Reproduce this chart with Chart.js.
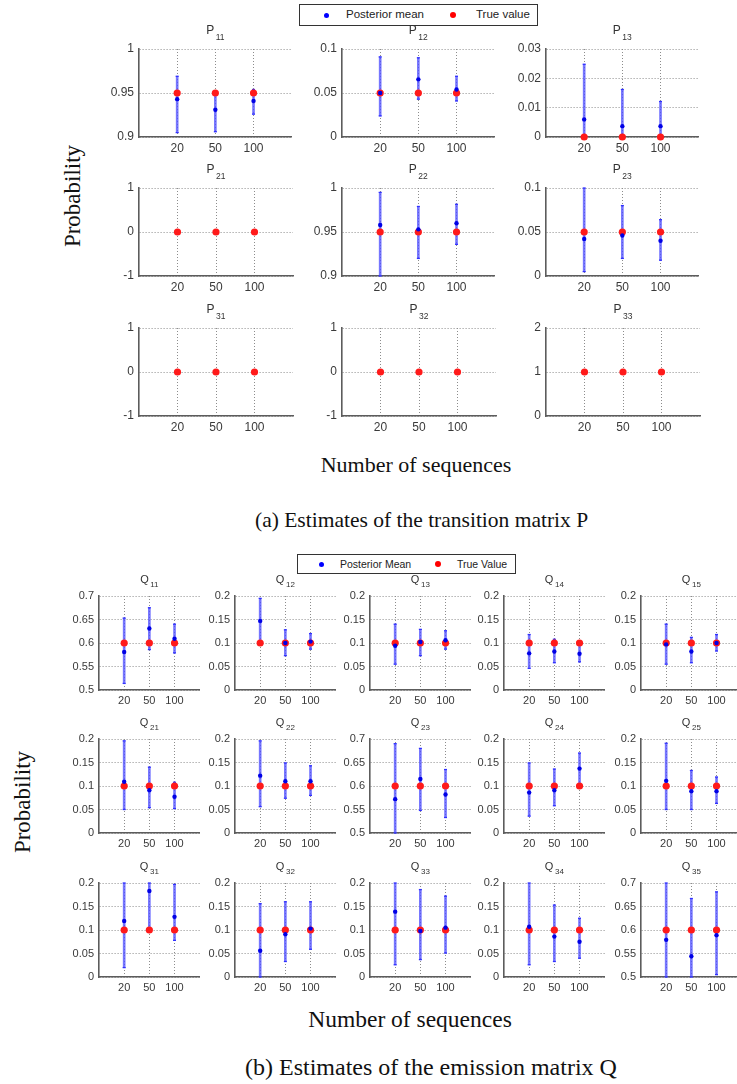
<!DOCTYPE html>
<html><head><meta charset="utf-8">
<script src="https://cdn.jsdelivr.net/npm/chart.js@4.4.0/dist/chart.umd.min.js"></script>
<style>
html,body{margin:0;padding:0;width:737px;height:1084px;overflow:hidden;background:#fff;position:relative;}
.box{position:absolute;}
.lbl{position:absolute;font-family:"Liberation Serif","Times New Roman",serif;color:#111;white-space:nowrap;line-height:1;}
.legend{position:absolute;box-sizing:border-box;border:1.5px solid #333;background:#fff;font-family:"Liberation Sans",Arial,sans-serif;color:#222;z-index:5;}
.legend span{position:absolute;white-space:nowrap;line-height:1;}
.legend .dot{border-radius:50%;}
</style></head>
<body>
<div id="stage"></div>

<div class="legend" style="left:299px;top:4px;width:239px;height:22px;font-size:11.5px;">
  <span class="dot" style="left:24px;top:7.5px;width:5px;height:5px;background:#0000ff;"></span>
  <span style="left:46px;top:4px;" id="lgA1"></span>
  <span class="dot" style="left:150px;top:7px;width:6px;height:6px;background:#ff0000;"></span>
  <span style="left:176px;top:4px;" id="lgA2"></span>
</div>
<div class="legend" style="left:297px;top:554px;width:219px;height:20px;font-size:10.5px;">
  <span class="dot" style="left:21px;top:6.5px;width:5px;height:5px;background:#0000ff;"></span>
  <span style="left:42px;top:3.5px;" id="lgB1"></span>
  <span class="dot" style="left:137px;top:6px;width:6px;height:6px;background:#ff0000;"></span>
  <span style="left:159px;top:3.5px;" id="lgB2"></span>
</div>

<div class="lbl" style="left:72px;top:196px;font-size:23px;transform:translate(-50%,-50%) rotate(-90deg);">Probability</div>
<div class="lbl" style="left:416px;top:465px;font-size:22px;transform:translate(-50%,-50%);">Number of sequences</div>
<div class="lbl" style="left:255px;top:521px;font-size:21.5px;transform:translate(0,-50%);">(a) Estimates of the transition matrix P</div>

<div class="lbl" style="left:22px;top:802px;font-size:23px;transform:translate(-50%,-50%) rotate(-90deg);">Probability</div>
<div class="lbl" style="left:410px;top:1020px;font-size:23.5px;transform:translate(-50%,-50%);">Number of sequences</div>
<div class="lbl" style="left:245px;top:1067px;font-size:24px;transform:translate(0,-50%);">(b) Estimates of the emission matrix Q</div>

<script>
// ---------------- data ----------------
const sequences = ['20', '50', '100'];

const legendP = ['Posterior mean', 'True value'];
const legendQ = ['Posterior Mean', 'True Value'];

// Transition matrix P
const pLetter = 'P';
const pNames = ['11','12','13','21','22','23','31','32','33'];
const pTickLabels = [
  ['0.9','0.95','1'], ['0','0.05','0.1'], ['0','0.01','0.02','0.03'],
  ['-1','0','1'],     ['0.9','0.95','1'], ['0','0.05','0.1'],
  ['-1','0','1'],     ['-1','0','1'],     ['0','1','2']
];
const pTrue = [
  [0.95,0.95,0.95], [0.05,0.05,0.05], [0,0,0],
  [0,0,0],          [0.95,0.95,0.95], [0.05,0.05,0.05],
  [0,0,0],          [0,0,0],          [1,1,1]
];
const pMean = [
  [0.943,0.931,0.941], [0.050,0.0655,0.054], [0.006,0.0037,0.0037],
  [null,null,null],    [0.958,0.953,0.960],  [0.042,0.046,0.040],
  [null,null,null],    [null,null,null],     [null,null,null]
];
const pLow = [
  [0.905,0.906,0.926], [0.024,0.043,0.041], [0,0,0],
  [null,null,null],    [0.900,0.920,0.936], [0.005,0.020,0.018],
  [null,null,null],    [null,null,null],    [null,null,null]
];
const pHigh = [
  [0.969,0.952,0.954], [0.091,0.090,0.069], [0.0248,0.0162,0.0121],
  [null,null,null],    [0.995,0.979,0.9815],[0.100,0.080,0.064],
  [null,null,null],    [null,null,null],    [null,null,null]
];

// Emission matrix Q
const qLetter = 'Q';
const qNames = ['11','12','13','14','15','21','22','23','24','25','31','32','33','34','35'];
const qTicksLow  = ['0','0.05','0.1','0.15','0.2'];
const qTicksHigh = ['0.5','0.55','0.6','0.65','0.7'];
const qTickLabels = [
  qTicksHigh, qTicksLow, qTicksLow, qTicksLow, qTicksLow,
  qTicksLow,  qTicksLow, qTicksHigh, qTicksLow, qTicksLow,
  qTicksLow,  qTicksLow, qTicksLow, qTicksLow, qTicksHigh
];
const qTrue = [
  [0.6,0.6,0.6], [0.1,0.1,0.1], [0.1,0.1,0.1], [0.1,0.1,0.1], [0.1,0.1,0.1],
  [0.1,0.1,0.1], [0.1,0.1,0.1], [0.6,0.6,0.6], [0.1,0.1,0.1], [0.1,0.1,0.1],
  [0.1,0.1,0.1], [0.1,0.1,0.1], [0.1,0.1,0.1], [0.1,0.1,0.1], [0.6,0.6,0.6]
];
const qMean = [
  [0.581,0.631,0.609], [0.147,0.100,0.103], [0.094,0.102,0.106], [0.078,0.082,0.077], [0.097,0.082,0.100],
  [0.109,0.091,0.077], [0.122,0.110,0.110], [0.572,0.615,0.582], [0.086,0.091,0.137], [0.111,0.089,0.089],
  [0.119,0.183,0.128], [0.056,0.091,0.103], [0.139,0.098,0.105], [0.107,0.086,0.075], [0.579,0.544,0.589]
];
const qLow = [
  [0.514,0.586,0.579], [0.100,0.073,0.087], [0.055,0.073,0.087], [0.046,0.058,0.060], [0.055,0.058,0.083],
  [0.050,0.054,0.052], [0.056,0.074,0.080], [0.500,0.548,0.533], [0.036,0.058,0.100], [0.050,0.050,0.063],
  [0.020,0.100,0.078], [0.000,0.033,0.059], [0.026,0.037,0.051], [0.026,0.033,0.040], [0.500,0.500,0.505]
];
const qHigh = [
  [0.653,0.675,0.640], [0.195,0.128,0.120], [0.140,0.129,0.126], [0.118,0.108,0.100], [0.140,0.112,0.118],
  [0.196,0.140,0.108], [0.196,0.149,0.143], [0.690,0.680,0.635], [0.149,0.136,0.170], [0.191,0.133,0.119],
  [0.200,0.200,0.197], [0.156,0.160,0.160], [0.200,0.186,0.172], [0.200,0.153,0.125], [0.700,0.667,0.681]
];

// ---------------- rendering ----------------
document.getElementById('lgA1').textContent = legendP[0];
document.getElementById('lgA2').textContent = legendP[1];
document.getElementById('lgB1').textContent = legendQ[0];
document.getElementById('lgB2').textContent = legendQ[1];

Chart.defaults.font.family = '"Liberation Sans", Arial, sans-serif';
const stage = document.getElementById('stage');

function titlePlugin(letter, sub, g) {
  return {
    id: 'subTitle',
    afterDraw(chart) {
      const ctx = chart.ctx, a = chart.chartArea;
      ctx.save();
      ctx.fillStyle = '#333';
      ctx.textBaseline = 'alphabetic';
      ctx.textAlign = 'left';
      const fBig = g.titleBig + 'px "Liberation Sans", Arial, sans-serif';
      const fSmall = g.titleSmall + 'px "Liberation Sans", Arial, sans-serif';
      ctx.font = fBig; const w1 = ctx.measureText(letter).width;
      ctx.font = fSmall; const w2 = ctx.measureText(sub).width;
      const x0 = (a.left + a.right) / 2 - (w1 + 1.5 + w2) / 2;
      ctx.font = fBig; ctx.fillText(letter, x0, a.top - g.dyMain);
      ctx.font = fSmall; ctx.fillText(sub, x0 + w1 + 1.5, a.top - g.dySub);
      ctx.restore();
    }
  };
}

function makePanel(left, top, g, letter, name, tickLabels, tVals, mVals, lVals, hVals) {
  const W = g.w + g.yw + g.pr, H = g.h + g.pt + g.xh;
  const div = document.createElement('div');
  div.className = 'box';
  div.style.left = (left - g.yw) + 'px';
  div.style.top = (top - g.pt) + 'px';
  div.style.width = W + 'px';
  div.style.height = H + 'px';
  const cv = document.createElement('canvas');
  cv.width = W; cv.height = H;
  cv.style.width = W + 'px'; cv.style.height = H + 'px';
  div.appendChild(cv);
  stage.appendChild(div);

  const tickVals = tickLabels.map(parseFloat);
  const xs = sequences.map((s, i) => i + 1);
  const barData = xs.map((x, i) => ({x: x, y: (lVals[i] === null ? null : [lVals[i], hVals[i]])}));
  const capData = [];
  xs.forEach((x, i) => { if (lVals[i] !== null) { capData.push({x: x, y: lVals[i]}); capData.push({x: x, y: hVals[i]}); } });
  const trueData = xs.map((x, i) => ({x: x, y: tVals[i]}));
  const meanData = xs.map((x, i) => ({x: x, y: mVals[i]}));

  new Chart(cv, {
    type: 'scatter',
    data: {
      datasets: [
        {type: 'bar', data: barData, backgroundColor: 'rgba(80,80,255,0.78)', borderWidth: 0,
         barThickness: 2, grouped: false, order: 4},
        {type: 'scatter', data: capData, pointStyle: 'line', pointRadius: 1.5, borderWidth: 1.3,
         borderColor: '#3030ff', backgroundColor: '#3030ff', order: 3, clip: false},
        {type: 'scatter', data: trueData, pointRadius: g.redR, pointBorderWidth: 0,
         backgroundColor: '#ff1a1a', borderColor: '#ff1a1a', order: 2, clip: false},
        {type: 'scatter', data: meanData, pointRadius: g.blueR, pointBorderWidth: 0,
         backgroundColor: '#0000e6', borderColor: '#0000e6', order: 1, clip: false}
      ]
    },
    options: {
      responsive: false,
      animation: false,
      events: [],
      layout: {padding: {top: g.pt, right: g.pr, left: 0, bottom: 0}},
      plugins: {legend: {display: false}, tooltip: {enabled: false}, title: {display: false}},
      scales: {
        x: {
          type: 'linear', min: 0, max: 4, offset: false,
          grid: {color: '#8c8c8c', lineWidth: 1, drawTicks: false, offset: false},
          border: {display: true, color: '#5c5c5c', width: 1.6, dash: [1, 2]},
          ticks: {color: '#3a3a3a', font: {size: g.fs}, padding: g.xpad, maxRotation: 0,
                  callback: (v) => sequences[v - 1]},
          afterBuildTicks: (s) => { s.ticks = xs.map(v => ({value: v})); },
          afterFit: (s) => { s.height = g.xh; }
        },
        y: {
          type: 'linear', min: tickVals[0], max: tickVals[tickVals.length - 1],
          grid: {color: '#8c8c8c', lineWidth: 1, drawTicks: false},
          border: {display: true, color: '#5c5c5c', width: 1.6, dash: [1, 2]},
          ticks: {color: '#3a3a3a', font: {size: g.fs}, padding: g.ypad,
                  callback: (v) => { const k = tickVals.findIndex(t => Math.abs(t - v) < 1e-9); return k >= 0 ? tickLabels[k] : ''; }},
          afterBuildTicks: (s) => { s.ticks = tickVals.map(v => ({value: v})); },
          afterFit: (s) => { s.width = g.yw; }
        }
      }
    },
    plugins: [titlePlugin(letter, name, g)]
  });
}

// geometry of the two panels
const gP = {w: 154, h: 88, yw: 42, pr: 4, pt: 28, xh: 22, fs: 12, xpad: 4, ypad: 5,
            titleBig: 12, titleSmall: 8.5, dyMain: 15, dySub: 9, redR: 3.6, blueR: 2.2};
const gQ = {w: 103, h: 94, yw: 36, pr: 3, pt: 24, xh: 20, fs: 11, xpad: 4, ypad: 5,
            titleBig: 11, titleSmall: 8, dyMain: 13, dySub: 9, redR: 3.6, blueR: 2.2};
const pLefts = [139, 342, 546], pTops = [49, 188, 328];
const qLefts = [99, 235, 370, 504, 641], qTops = [596, 739, 883];

pNames.forEach((n, k) => {
  makePanel(pLefts[k % 3], pTops[Math.floor(k / 3)], gP, pLetter, n, pTickLabels[k], pTrue[k], pMean[k], pLow[k], pHigh[k]);
});
qNames.forEach((n, k) => {
  makePanel(qLefts[k % 5], qTops[Math.floor(k / 5)], gQ, qLetter, n, qTickLabels[k], qTrue[k], qMean[k], qLow[k], qHigh[k]);
});
</script>
</body></html>
